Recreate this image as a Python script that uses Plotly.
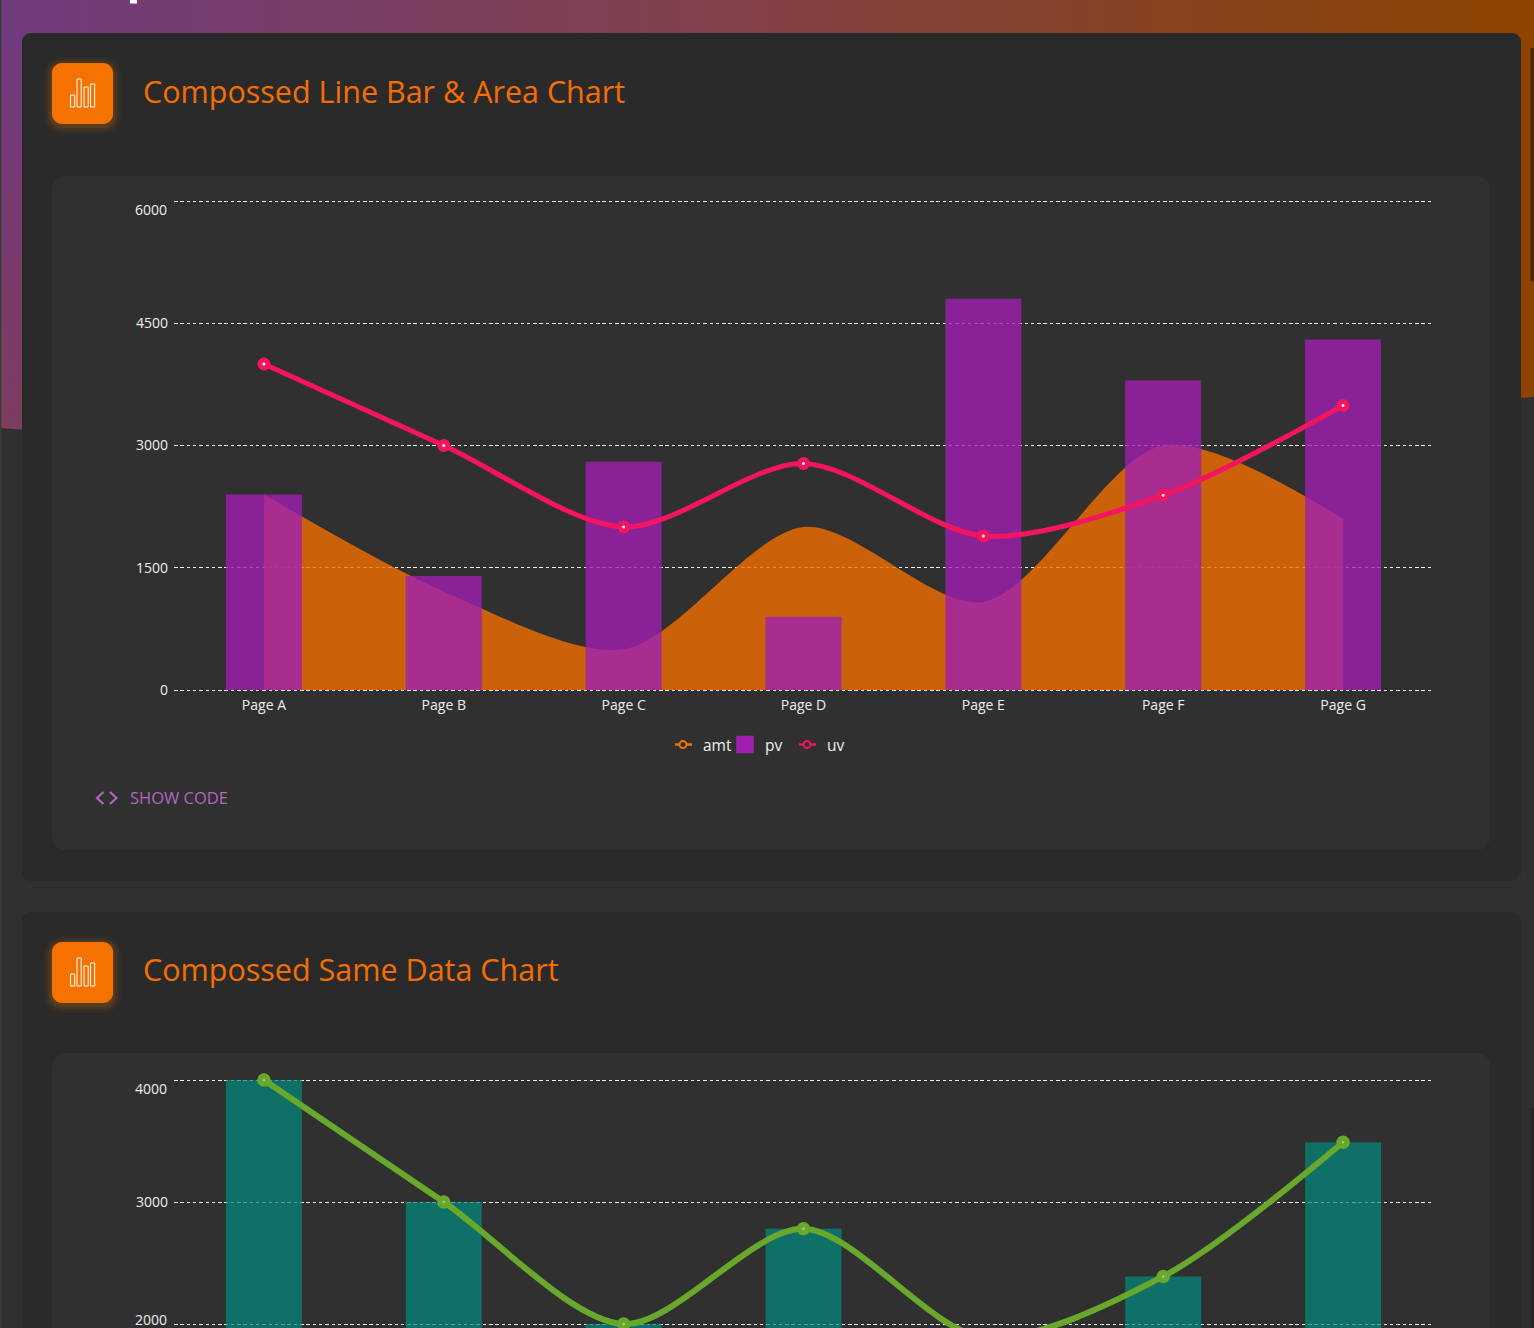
import math
import plotly.graph_objects as go

W, H = 1534, 1328

# ---- data ----
pages = ["Page A", "Page B", "Page C", "Page D", "Page E", "Page F", "Page G"]
uv = [4000, 3000, 2000, 2780, 1890, 2390, 3490]
pv = [2400, 1400, 2800, 900, 4800, 3800, 4300]
amt = [2400, 1210, 500, 2000, 1080, 3000, 2100]
ticks_top = [0, 1500, 3000, 4500, 6000]
ticks_bottom = [2000, 3000, 4000]
title_top = "Compossed Line Bar & Area Chart"
title_bottom = "Compossed Same Data Chart"

FONT = "Open Sans"
ORANGE, PURPLE, PINK = "#f57200", "#a01fb1", "#f5145f"
TEAL, GREEN = "rgb(0,140,126)", "#68a82c"
SMOOTH = 0.85


def rrect(x0, y0, x1, y1, r):
    xs, ys = [], []
    corners = [(x1 - r, y0 + r, -90), (x1 - r, y1 - r, 0), (x0 + r, y1 - r, 90), (x0 + r, y0 + r, 180)]
    for cx, cy, a0 in corners:
        for i in range(9):
            a = math.radians(a0 + i * 90 / 8)
            xs.append(cx + r * math.cos(a))
            ys.append(cy + r * math.sin(a))
    return xs + xs[:1], ys + ys[:1]


fig = go.Figure()


def deco(xs, ys, fill, **kw):
    fig.add_trace(go.Scatter(x=xs, y=ys, mode="none", fill="toself", fillcolor=fill, hoverinfo="skip",
                             showlegend=False, xaxis="x", yaxis="y", **kw))


def box(x0, y0, x1, y1, fill, r=0.01):
    xs, ys = rrect(x0, y0, x1, y1, r)
    deco(xs, ys, fill)


def stroke(xs, ys, color, width):
    fig.add_trace(go.Scatter(x=xs, y=ys, mode="lines", line=dict(color=color, width=width), hoverinfo="skip",
                             showlegend=False, xaxis="x", yaxis="y"))


# page backdrop
deco([0, W, W, 0, 0], [0, 0, 40, 40, 0], "rgba(0,0,0,0)",
     fillgradient=dict(type="horizontal", colorscale=[[0, "#723b7e"], [0.45, "#80414c"], [1, "#8e4400"]]))
deco([0, 40, 40, 0, 0], [30, 30, 431, 428, 30], "rgba(0,0,0,0)",
     fillgradient=dict(type="vertical", colorscale=[[0, "#7e3c5e"], [1, "#723a80"]]))
deco([1490, W, W, 1490, 1490], [30, 30, 397, 400, 30], "#8e4400")
box(0, 0, 1.5, H, "#3a3a3a")
box(1530.5, 48, W, 281, "#4e2600")
box(1530.5, 1108, W, H, "#262626")
box(130, 0, 137, 3.5, "#ffffff")
# cards
box(22, 33, 1521, 881, "#2a2a2a", 9)
box(22, 912, 1521, H + 30, "#2a2a2a", 9)
box(52, 176, 1490, 850, "#303030", 13)
box(52, 1053, 1490, H + 30, "#303030", 13)
# icons
for top in (63, 942):
    for grow, alpha in ((8, 0.04), (6, 0.05), (4, 0.07), (2, 0.1)):
        box(52 - grow, top - grow + 2, 113 + grow, top + 61 + grow + 2, f"rgba(245,124,0,{alpha})", 10 + grow)
    box(52, top, 113, top + 61, "#f57200", 10)
    for bx, by in ((70.5, 32), (77, 16), (84, 24), (90.5, 21)):
        stroke([bx, bx + 4.2, bx + 4.2, bx, bx], [top + by, top + by, top + 44, top + 44, top + by], "#ffffff", 1)
# "show code" chevrons
stroke([103.5, 97, 103.5], [792, 798, 804], "#b565c4", 2.2)
stroke([110, 116.5, 110], [792, 798, 804], "#b565c4", 2.2)

# chart 1: area underneath, on its own axes so the bars lie over it
fig.add_trace(go.Scatter(x=pages, y=amt, mode="lines", fill="tozeroy", fillcolor="rgba(242,110,0,0.8)",
                         line=dict(color="rgba(245,118,0,0)", width=0, shape="spline", smoothing=SMOOTH),
                         name="amt", showlegend=False, xaxis="x2", yaxis="y2"))
# legend keys (short line and ring, solid square), as the reference draws them
KEY_DASH = "0px,7px,17px,100px"
fig.add_trace(go.Scatter(x=[None], y=[None], mode="lines+markers", name="amt",
                         line=dict(color=ORANGE, width=2.5, dash=KEY_DASH),
                         marker=dict(size=7, color="#303030", line=dict(color=ORANGE, width=2)),
                         xaxis="x3", yaxis="y3"))
fig.add_trace(go.Scatter(x=[None], y=[None], mode="markers", name="pv",
                         marker=dict(size=16, symbol="square", color=PURPLE, line=dict(color=PURPLE, width=1.5)),
                         xaxis="x3", yaxis="y3"))
fig.add_trace(go.Scatter(x=[None], y=[None], mode="lines+markers", name="uv",
                         line=dict(color=PINK, width=2.5, dash=KEY_DASH),
                         marker=dict(size=7, color="#303030", line=dict(color=PINK, width=2)),
                         xaxis="x3", yaxis="y3"))
fig.add_trace(go.Bar(x=pages, y=pv, name="pv", width=0.4225, showlegend=False,
                     marker=dict(color=PURPLE, opacity=0.8, line_width=0), xaxis="x3", yaxis="y3"))
fig.add_trace(go.Scatter(x=pages, y=uv, mode="lines+markers", name="uv", showlegend=False, cliponaxis=False,
                         line=dict(color=PINK, width=5, shape="spline", smoothing=SMOOTH),
                         marker=dict(size=8, color="#ffffff", line=dict(color=PINK, width=5)),
                         xaxis="x3", yaxis="y3"))

# chart 2
fig.add_trace(go.Bar(x=pages, y=uv, name="uv", width=0.4225, showlegend=False,
                     marker=dict(color=TEAL, opacity=0.7, line_width=0), xaxis="x4", yaxis="y4"))
fig.add_trace(go.Scatter(x=pages, y=uv, mode="lines+markers", name="uv", showlegend=False, cliponaxis=False,
                         line=dict(color=GREEN, width=6, shape="spline", smoothing=SMOOTH),
                         marker=dict(size=8, color="#a8d070", line=dict(color=GREEN, width=5.5)),
                         xaxis="x4", yaxis="y4"))

# Plot boxes reach a few pixels past the outer ticks so that their grid lines are kept.
PX_TOP = 6000 / 489
PX_BOT = 1000 / 122
PAD = 3
dom_x = [174 / W, 1433 / W]
dom_top = [1 - (690 + PAD) / H, 1 - (201 - PAD) / H]
dom_bot = [0, 1 - (1080 - PAD) / H]
range_top = [-PAD * PX_TOP, 6000 + PAD * PX_TOP]
range_bot = [2000 - 4 * PX_BOT, 4000 + PAD * PX_BOT]

hidden = dict(visible=False, fixedrange=True)
tick_font = dict(family=FONT, size=14, color="#eeeeee")
grid = dict(showgrid=True, gridcolor="#f2f2f2", griddash="3.5px,2.8px", gridwidth=1, zeroline=False, showline=False)
xcat = dict(type="category", categoryorder="array", categoryarray=pages, range=[-0.5, 6.5], domain=dom_x,
            fixedrange=True)

fig.update_layout(
    width=W, height=H, margin=dict(l=0, r=0, t=0, b=0, pad=0, autoexpand=False),
    paper_bgcolor="#303030", plot_bgcolor="rgba(0,0,0,0)", barmode="overlay", hovermode=False,
    font=dict(family=FONT, color="#eeeeee"),
    xaxis=dict(range=[0, W], domain=[0, 1], **hidden),
    yaxis=dict(range=[H, 0], domain=[0, 1], **hidden),
    xaxis2=dict(anchor="y2", showgrid=False, zeroline=False, showline=False, tickfont=tick_font, ticks="", ticklen=0,
                ticklabelstandoff=2, **xcat),
    yaxis2=dict(anchor="x2", domain=dom_top, range=range_top, tickvals=ticks_top,
                ticktext=[str(t) if t != max(ticks_top) else "" for t in ticks_top],
                tickfont=tick_font, ticks="", ticklabelstandoff=5, fixedrange=True, **grid),
    xaxis3=dict(anchor="y3", visible=False, **xcat),
    yaxis3=dict(anchor="x3", domain=dom_top, range=range_top, visible=False, fixedrange=True),
    xaxis4=dict(anchor="y4", visible=False, **xcat),
    yaxis4=dict(anchor="x4", domain=dom_bot, range=range_bot, tickvals=ticks_bottom,
                ticktext=[str(t) if t == 3000 else "" for t in ticks_bottom],
                tickfont=tick_font, ticks="", ticklabelstandoff=5, fixedrange=True, **grid),
    legend=dict(orientation="h", x=756 / W, xanchor="center", y=1 - 745 / H, yanchor="middle",
                font=dict(family=FONT, size=15.5, color="#f0f0f0"), bgcolor="rgba(0,0,0,0)",
                itemwidth=30, entrywidth=17, entrywidthmode="pixels", traceorder="normal",
                itemsizing="trace", itemclick=False, itemdoubleclick=False),
    showlegend=True,
)


def note(text, x, y, size, color, anchor="left"):
    fig.add_annotation(text=text, x=x / W, y=1 - y / H, xref="paper", yref="paper", xanchor=anchor, yanchor="middle",
                       showarrow=False, font=dict(family=FONT, size=size, color=color))


def edge_tick(value, axis, shift):
    fig.add_annotation(text=str(value), x=174 / W, xref="paper", y=value, yref=axis, yshift=shift,
                       xanchor="right", xshift=-5, yanchor="middle", showarrow=False, font=tick_font)


note(title_top, 141, 90.5, 30.5, "#f76e00")
note(title_bottom, 141, 969, 30.5, "#f76e00")
note("SHOW CODE", 127.5, 797.5, 16.5, "#b565c4")
edge_tick(max(ticks_top), "y2", -9)
edge_tick(max(ticks_bottom), "y4", -8)
edge_tick(min(ticks_bottom), "y4", 5)

fig.write_html("out.html", config=dict(displayModeBar=False),
               post_script="document.body.style.margin='0';document.body.style.overflow='hidden';")
